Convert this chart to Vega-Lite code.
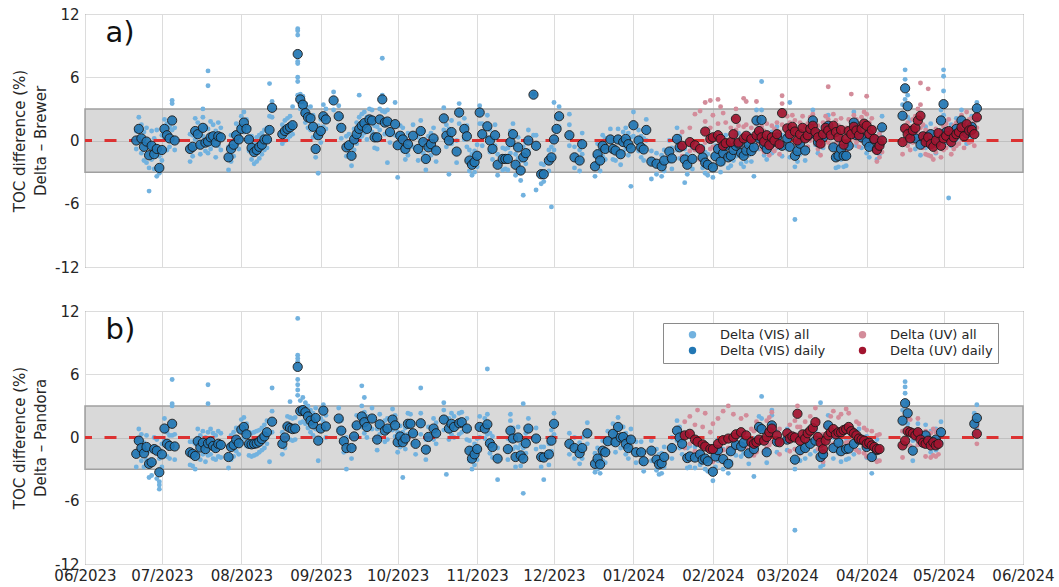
{
"$schema":"https://vega.github.io/schema/vega-lite/v6.json",
"background":"white",
"padding":{"left":12,"top":6,"right":5,"bottom":3},
"spacing":27,
"config":{"font":"DejaVu Sans","view":{"stroke":"#555555","strokeWidth":1},
"axis":{"labelFont":"DejaVu Sans","labelFontSize":15,"labelColor":"#262626","titleFont":"DejaVu Sans","titleFontSize":15,"titleFontWeight":"normal","titleColor":"#262626","gridColor":"#dcdcdc","gridWidth":1,"gridOpacity":1,"domain":false,"ticks":false}},
"resolve":{"scale":{"color":"independent"}},
"datasets":{
"aVd":[{"d":"2023-06-21","v":0.0},{"d":"2023-06-22","v":1.1},{"d":"2023-06-23","v":0.2},{"d":"2023-06-24","v":-0.6},{"d":"2023-06-25","v":-0.1},{"d":"2023-06-26","v":-1.4},{"d":"2023-06-27","v":-0.5},{"d":"2023-06-28","v":-1.3},{"d":"2023-06-29","v":-0.8},{"d":"2023-06-30","v":-2.6},{"d":"2023-07-01","v":-0.9},{"d":"2023-07-02","v":1.1},{"d":"2023-07-03","v":0.5},{"d":"2023-07-04","v":0.2},{"d":"2023-07-05","v":1.9},{"d":"2023-07-06","v":0.0},{"d":"2023-07-12","v":-0.8},{"d":"2023-07-13","v":-0.6},{"d":"2023-07-14","v":0.9},{"d":"2023-07-15","v":0.6},{"d":"2023-07-16","v":-0.4},{"d":"2023-07-17","v":1.2},{"d":"2023-07-18","v":-0.2},{"d":"2023-07-19","v":-0.1},{"d":"2023-07-20","v":0.3},{"d":"2023-07-21","v":0.4},{"d":"2023-07-22","v":-0.2},{"d":"2023-07-23","v":0.4},{"d":"2023-07-24","v":0.3},{"d":"2023-07-27","v":-1.6},{"d":"2023-07-28","v":-0.8},{"d":"2023-07-29","v":-0.4},{"d":"2023-07-30","v":0.5},{"d":"2023-07-31","v":0.1},{"d":"2023-08-01","v":1.1},{"d":"2023-08-02","v":1.7},{"d":"2023-08-03","v":1.1},{"d":"2023-08-04","v":0.1},{"d":"2023-08-05","v":-0.7},{"d":"2023-08-06","v":-1.1},{"d":"2023-08-07","v":-0.9},{"d":"2023-08-08","v":-0.6},{"d":"2023-08-09","v":-0.4},{"d":"2023-08-10","v":0.1},{"d":"2023-08-11","v":0.1},{"d":"2023-08-12","v":1.0},{"d":"2023-08-13","v":3.1},{"d":"2023-08-17","v":0.6},{"d":"2023-08-18","v":0.9},{"d":"2023-08-19","v":1.1},{"d":"2023-08-20","v":1.25},{"d":"2023-08-21","v":1.45},{"d":"2023-08-23","v":8.2},{"d":"2023-08-24","v":3.9},{"d":"2023-08-25","v":3.4},{"d":"2023-08-26","v":2.6},{"d":"2023-08-27","v":2.2},{"d":"2023-08-28","v":2.1},{"d":"2023-08-29","v":1.3},{"d":"2023-08-30","v":-0.8},{"d":"2023-08-31","v":0.5},{"d":"2023-09-01","v":0.9},{"d":"2023-09-02","v":2.3},{"d":"2023-09-03","v":2.0},{"d":"2023-09-06","v":3.8},{"d":"2023-09-08","v":2.3},{"d":"2023-09-09","v":1.2},{"d":"2023-09-11","v":-0.65},{"d":"2023-09-12","v":-0.45},{"d":"2023-09-13","v":-1.45},{"d":"2023-09-14","v":0.1},{"d":"2023-09-15","v":0.6},{"d":"2023-09-16","v":1.1},{"d":"2023-09-17","v":1.4},{"d":"2023-09-18","v":1.65},{"d":"2023-09-19","v":1.1},{"d":"2023-09-20","v":2.0},{"d":"2023-09-21","v":1.9},{"d":"2023-09-22","v":0.3},{"d":"2023-09-23","v":0.3},{"d":"2023-09-24","v":2.0},{"d":"2023-09-25","v":3.9},{"d":"2023-09-26","v":1.7},{"d":"2023-09-27","v":1.8},{"d":"2023-09-28","v":0.8},{"d":"2023-09-30","v":1.55},{"d":"2023-10-01","v":-0.45},{"d":"2023-10-02","v":0.45},{"d":"2023-10-03","v":0.1},{"d":"2023-10-04","v":-0.8},{"d":"2023-10-05","v":-0.35},{"d":"2023-10-07","v":0.45},{"d":"2023-10-09","v":-0.8},{"d":"2023-10-10","v":0.9},{"d":"2023-10-11","v":-0.15},{"d":"2023-10-12","v":-1.75},{"d":"2023-10-13","v":-0.65},{"d":"2023-10-14","v":-0.35},{"d":"2023-10-15","v":0.2},{"d":"2023-10-16","v":-0.95},{"d":"2023-10-19","v":2.1},{"d":"2023-10-20","v":0.45},{"d":"2023-10-21","v":0.0},{"d":"2023-10-22","v":0.8},{"d":"2023-10-24","v":-1.05},{"d":"2023-10-25","v":2.65},{"d":"2023-10-27","v":1.1},{"d":"2023-10-28","v":0.4},{"d":"2023-10-29","v":-1.9},{"d":"2023-10-30","v":-2.3},{"d":"2023-10-31","v":-2.05},{"d":"2023-11-01","v":-1.45},{"d":"2023-11-02","v":2.65},{"d":"2023-11-03","v":0.6},{"d":"2023-11-05","v":1.35},{"d":"2023-11-06","v":0.0},{"d":"2023-11-07","v":-0.8},{"d":"2023-11-08","v":0.5},{"d":"2023-11-09","v":-2.3},{"d":"2023-11-11","v":-1.75},{"d":"2023-11-12","v":-1.75},{"d":"2023-11-13","v":-1.75},{"d":"2023-11-14","v":-0.15},{"d":"2023-11-15","v":0.6},{"d":"2023-11-16","v":-2.3},{"d":"2023-11-17","v":-0.65},{"d":"2023-11-18","v":-2.85},{"d":"2023-11-19","v":-1.6},{"d":"2023-11-20","v":-1.2},{"d":"2023-11-21","v":0.0},{"d":"2023-11-23","v":4.35},{"d":"2023-11-24","v":-0.5},{"d":"2023-11-26","v":-3.2},{"d":"2023-11-27","v":-3.2},{"d":"2023-11-29","v":-1.9},{"d":"2023-11-30","v":-1.6},{"d":"2023-12-01","v":0.1},{"d":"2023-12-02","v":1.1},{"d":"2023-12-03","v":2.3},{"d":"2023-12-07","v":0.5},{"d":"2023-12-09","v":-1.6},{"d":"2023-12-11","v":-1.9},{"d":"2023-12-12","v":-0.35},{"d":"2023-12-17","v":-2.45},{"d":"2023-12-18","v":-1.3},{"d":"2023-12-19","v":-1.9},{"d":"2023-12-20","v":-0.5},{"d":"2023-12-21","v":-0.8},{"d":"2023-12-23","v":0.1},{"d":"2023-12-24","v":-0.8},{"d":"2023-12-25","v":-0.95},{"d":"2023-12-26","v":0.1},{"d":"2023-12-27","v":-1.3},{"d":"2023-12-28","v":-0.15},{"d":"2023-12-29","v":0.15},{"d":"2023-12-30","v":-0.35},{"d":"2023-12-31","v":-0.75},{"d":"2024-01-01","v":1.45},{"d":"2024-01-03","v":0.0},{"d":"2024-01-04","v":-0.65},{"d":"2024-01-05","v":-0.85},{"d":"2024-01-06","v":1.0},{"d":"2024-01-08","v":-2.0},{"d":"2024-01-10","v":-2.2},{"d":"2024-01-12","v":-2.45},{"d":"2024-01-13","v":-1.9},{"d":"2024-01-15","v":-1.05},{"d":"2024-01-16","v":-1.7},{"d":"2024-01-18","v":0.15},{"d":"2024-01-19","v":-0.65},{"d":"2024-01-21","v":-1.8},{"d":"2024-01-22","v":-2.3},{"d":"2024-01-24","v":-1.75},{"d":"2024-01-28","v":-1.6},{"d":"2024-01-29","v":-2.1},{"d":"2024-01-30","v":-2.3},{"d":"2024-02-01","v":-2.55},{"d":"2024-02-02","v":-1.5},{"d":"2024-02-03","v":-0.8},{"d":"2024-02-04","v":-2.0},{"d":"2024-02-05","v":-1.2},{"d":"2024-02-06","v":-0.5},{"d":"2024-02-07","v":-1.6},{"d":"2024-02-08","v":-1.45},{"d":"2024-02-09","v":-0.9},{"d":"2024-02-10","v":-0.5},{"d":"2024-02-11","v":-0.3},{"d":"2024-02-12","v":-1.2},{"d":"2024-02-13","v":-1.45},{"d":"2024-02-14","v":-0.95},{"d":"2024-02-15","v":-0.4},{"d":"2024-02-16","v":-1.0},{"d":"2024-02-17","v":-0.65},{"d":"2024-02-18","v":1.9},{"d":"2024-02-19","v":0.2},{"d":"2024-02-20","v":1.95},{"d":"2024-02-21","v":-0.4},{"d":"2024-02-22","v":-0.8},{"d":"2024-02-24","v":-0.2},{"d":"2024-02-26","v":0.3},{"d":"2024-02-28","v":-0.5},{"d":"2024-03-01","v":0.2},{"d":"2024-03-02","v":-0.6},{"d":"2024-03-04","v":-1.45},{"d":"2024-03-05","v":-1.0},{"d":"2024-03-06","v":-0.3},{"d":"2024-03-08","v":-0.95},{"d":"2024-03-09","v":0.4},{"d":"2024-03-11","v":1.9},{"d":"2024-03-12","v":0.6},{"d":"2024-03-13","v":-0.15},{"d":"2024-03-15","v":0.3},{"d":"2024-03-17","v":1.4},{"d":"2024-03-19","v":-0.65},{"d":"2024-03-20","v":-1.6},{"d":"2024-03-21","v":-1.45},{"d":"2024-03-22","v":-0.8},{"d":"2024-03-23","v":-1.45},{"d":"2024-03-24","v":-1.45},{"d":"2024-03-25","v":-0.5},{"d":"2024-03-27","v":1.7},{"d":"2024-03-28","v":0.5},{"d":"2024-03-30","v":0.3},{"d":"2024-04-01","v":-0.15},{"d":"2024-04-02","v":-0.6},{"d":"2024-04-04","v":0.1},{"d":"2024-04-05","v":-0.8},{"d":"2024-04-06","v":-0.3},{"d":"2024-04-07","v":1.25},{"d":"2024-04-15","v":2.35},{"d":"2024-04-16","v":4.95},{"d":"2024-04-17","v":3.25},{"d":"2024-04-18","v":0.9},{"d":"2024-04-20","v":0.2},{"d":"2024-04-22","v":-0.4},{"d":"2024-04-24","v":0.3},{"d":"2024-04-26","v":0.6},{"d":"2024-04-28","v":-0.2},{"d":"2024-04-30","v":1.9},{"d":"2024-05-01","v":3.45},{"d":"2024-05-02","v":0.8},{"d":"2024-05-04","v":0.5},{"d":"2024-05-06","v":1.1},{"d":"2024-05-08","v":1.9},{"d":"2024-05-10","v":0.7},{"d":"2024-05-12","v":1.3},{"d":"2024-05-14","v":3.05}],
"aVa":[{"d":"2023-06-21","v":0.9},{"d":"2023-06-21","v":-0.8},{"d":"2023-06-22","v":2.2},{"d":"2023-06-22","v":0.3},{"d":"2023-06-23","v":1.5},{"d":"2023-06-23","v":-1.2},{"d":"2023-06-24","v":0.8},{"d":"2023-06-24","v":-1.9},{"d":"2023-06-25","v":1.2},{"d":"2023-06-25","v":-2.1},{"d":"2023-06-26","v":-0.5},{"d":"2023-06-26","v":-4.8},{"d":"2023-06-26","v":-2.6},{"d":"2023-06-27","v":0.9},{"d":"2023-06-27","v":-1.8},{"d":"2023-06-28","v":0.2},{"d":"2023-06-28","v":-2.7},{"d":"2023-06-29","v":1.0},{"d":"2023-06-29","v":-3.4},{"d":"2023-06-30","v":-1.5},{"d":"2023-06-30","v":-3.1},{"d":"2023-07-01","v":0.5},{"d":"2023-07-01","v":-1.9},{"d":"2023-07-02","v":2.0},{"d":"2023-07-02","v":0.1},{"d":"2023-07-03","v":1.6},{"d":"2023-07-03","v":-0.9},{"d":"2023-07-04","v":1.3},{"d":"2023-07-04","v":-0.6},{"d":"2023-07-05","v":3.8},{"d":"2023-07-05","v":3.5},{"d":"2023-07-05","v":1.0},{"d":"2023-07-06","v":1.2},{"d":"2023-07-06","v":-0.9},{"d":"2023-07-12","v":0.6},{"d":"2023-07-12","v":-2.0},{"d":"2023-07-13","v":0.5},{"d":"2023-07-13","v":-1.5},{"d":"2023-07-14","v":2.1},{"d":"2023-07-14","v":0.1},{"d":"2023-07-15","v":1.7},{"d":"2023-07-15","v":-0.6},{"d":"2023-07-16","v":1.0},{"d":"2023-07-16","v":-1.3},{"d":"2023-07-17","v":2.2},{"d":"2023-07-17","v":3.0},{"d":"2023-07-17","v":0.4},{"d":"2023-07-18","v":1.3},{"d":"2023-07-18","v":-1.0},{"d":"2023-07-19","v":6.6},{"d":"2023-07-19","v":5.2},{"d":"2023-07-19","v":1.1},{"d":"2023-07-19","v":-1.2},{"d":"2023-07-20","v":1.8},{"d":"2023-07-20","v":-0.8},{"d":"2023-07-21","v":1.5},{"d":"2023-07-21","v":-0.4},{"d":"2023-07-22","v":0.9},{"d":"2023-07-22","v":-1.6},{"d":"2023-07-23","v":1.7},{"d":"2023-07-23","v":-0.5},{"d":"2023-07-24","v":1.2},{"d":"2023-07-24","v":-0.9},{"d":"2023-07-27","v":-0.6},{"d":"2023-07-27","v":-2.8},{"d":"2023-07-28","v":0.5},{"d":"2023-07-28","v":-2.0},{"d":"2023-07-29","v":0.6},{"d":"2023-07-29","v":-1.5},{"d":"2023-07-30","v":1.6},{"d":"2023-07-30","v":-0.4},{"d":"2023-07-31","v":1.3},{"d":"2023-07-31","v":-0.8},{"d":"2023-08-01","v":2.3},{"d":"2023-08-01","v":0.2},{"d":"2023-08-02","v":2.7},{"d":"2023-08-02","v":0.8},{"d":"2023-08-03","v":2.0},{"d":"2023-08-03","v":0.0},{"d":"2023-08-04","v":1.2},{"d":"2023-08-04","v":-1.0},{"d":"2023-08-05","v":0.4},{"d":"2023-08-05","v":-1.8},{"d":"2023-08-06","v":-0.2},{"d":"2023-08-06","v":-2.2},{"d":"2023-08-07","v":0.3},{"d":"2023-08-07","v":-2.0},{"d":"2023-08-08","v":0.5},{"d":"2023-08-08","v":-1.7},{"d":"2023-08-09","v":0.7},{"d":"2023-08-09","v":-1.3},{"d":"2023-08-10","v":1.0},{"d":"2023-08-10","v":-0.9},{"d":"2023-08-11","v":1.2},{"d":"2023-08-11","v":-0.7},{"d":"2023-08-12","v":5.4},{"d":"2023-08-12","v":2.3},{"d":"2023-08-12","v":0.0},{"d":"2023-08-13","v":3.7},{"d":"2023-08-13","v":2.2},{"d":"2023-08-17","v":1.5},{"d":"2023-08-17","v":-0.3},{"d":"2023-08-18","v":1.9},{"d":"2023-08-18","v":0.0},{"d":"2023-08-19","v":2.1},{"d":"2023-08-19","v":0.1},{"d":"2023-08-20","v":2.3},{"d":"2023-08-20","v":0.4},{"d":"2023-08-21","v":3.2},{"d":"2023-08-21","v":0.6},{"d":"2023-08-23","v":10.6},{"d":"2023-08-23","v":10.4},{"d":"2023-08-23","v":10.0},{"d":"2023-08-23","v":7.5},{"d":"2023-08-23","v":7.3},{"d":"2023-08-23","v":6.0},{"d":"2023-08-23","v":5.6},{"d":"2023-08-23","v":4.3},{"d":"2023-08-24","v":4.4},{"d":"2023-08-24","v":3.0},{"d":"2023-08-25","v":4.2},{"d":"2023-08-25","v":2.6},{"d":"2023-08-26","v":3.5},{"d":"2023-08-26","v":1.7},{"d":"2023-08-27","v":3.1},{"d":"2023-08-27","v":1.2},{"d":"2023-08-28","v":3.2},{"d":"2023-08-28","v":1.0},{"d":"2023-08-29","v":2.4},{"d":"2023-08-29","v":0.3},{"d":"2023-08-30","v":0.3},{"d":"2023-08-30","v":-1.6},{"d":"2023-08-31","v":1.4},{"d":"2023-08-31","v":-3.1},{"d":"2023-09-01","v":2.0},{"d":"2023-09-01","v":-0.2},{"d":"2023-09-02","v":3.4},{"d":"2023-09-02","v":1.3},{"d":"2023-09-03","v":3.0},{"d":"2023-09-03","v":1.1},{"d":"2023-09-06","v":4.6},{"d":"2023-09-06","v":2.9},{"d":"2023-09-08","v":3.3},{"d":"2023-09-08","v":1.4},{"d":"2023-09-09","v":2.2},{"d":"2023-09-09","v":0.2},{"d":"2023-09-11","v":0.4},{"d":"2023-09-11","v":-1.5},{"d":"2023-09-12","v":0.6},{"d":"2023-09-12","v":-1.3},{"d":"2023-09-13","v":-0.4},{"d":"2023-09-13","v":-2.4},{"d":"2023-09-14","v":1.1},{"d":"2023-09-14","v":-0.9},{"d":"2023-09-15","v":1.7},{"d":"2023-09-15","v":-0.3},{"d":"2023-09-16","v":4.3},{"d":"2023-09-16","v":2.2},{"d":"2023-09-16","v":0.1},{"d":"2023-09-17","v":2.5},{"d":"2023-09-17","v":0.4},{"d":"2023-09-18","v":2.7},{"d":"2023-09-18","v":0.7},{"d":"2023-09-19","v":2.2},{"d":"2023-09-19","v":0.1},{"d":"2023-09-20","v":3.0},{"d":"2023-09-20","v":1.0},{"d":"2023-09-21","v":2.9},{"d":"2023-09-21","v":0.8},{"d":"2023-09-22","v":1.4},{"d":"2023-09-22","v":-0.7},{"d":"2023-09-23","v":1.3},{"d":"2023-09-23","v":-0.8},{"d":"2023-09-24","v":3.0},{"d":"2023-09-24","v":1.0},{"d":"2023-09-25","v":7.8},{"d":"2023-09-25","v":4.3},{"d":"2023-09-25","v":2.8},{"d":"2023-09-26","v":2.7},{"d":"2023-09-26","v":0.6},{"d":"2023-09-27","v":2.9},{"d":"2023-09-27","v":-2.1},{"d":"2023-09-28","v":1.8},{"d":"2023-09-28","v":-0.2},{"d":"2023-09-30","v":3.6},{"d":"2023-09-30","v":0.5},{"d":"2023-10-01","v":0.6},{"d":"2023-10-01","v":-3.5},{"d":"2023-10-02","v":1.4},{"d":"2023-10-02","v":-0.6},{"d":"2023-10-03","v":1.2},{"d":"2023-10-03","v":-1.0},{"d":"2023-10-04","v":0.3},{"d":"2023-10-04","v":-1.8},{"d":"2023-10-05","v":0.7},{"d":"2023-10-05","v":-1.4},{"d":"2023-10-07","v":1.5},{"d":"2023-10-07","v":-0.6},{"d":"2023-10-09","v":0.3},{"d":"2023-10-09","v":-1.9},{"d":"2023-10-10","v":1.9},{"d":"2023-10-10","v":-0.1},{"d":"2023-10-11","v":0.9},{"d":"2023-10-11","v":-1.2},{"d":"2023-10-12","v":-0.7},{"d":"2023-10-12","v":-2.8},{"d":"2023-10-13","v":0.4},{"d":"2023-10-13","v":-1.7},{"d":"2023-10-14","v":0.7},{"d":"2023-10-14","v":-1.4},{"d":"2023-10-15","v":1.2},{"d":"2023-10-15","v":-0.8},{"d":"2023-10-16","v":0.1},{"d":"2023-10-16","v":-2.0},{"d":"2023-10-19","v":3.1},{"d":"2023-10-19","v":1.0},{"d":"2023-10-20","v":1.5},{"d":"2023-10-20","v":-0.6},{"d":"2023-10-21","v":1.1},{"d":"2023-10-21","v":-3.2},{"d":"2023-10-22","v":1.9},{"d":"2023-10-22","v":-0.3},{"d":"2023-10-24","v":0.0},{"d":"2023-10-24","v":-2.1},{"d":"2023-10-25","v":3.5},{"d":"2023-10-25","v":1.6},{"d":"2023-10-27","v":2.1},{"d":"2023-10-27","v":0.1},{"d":"2023-10-28","v":1.4},{"d":"2023-10-28","v":-0.6},{"d":"2023-10-29","v":-0.9},{"d":"2023-10-29","v":-2.9},{"d":"2023-10-30","v":-1.3},{"d":"2023-10-30","v":-3.3},{"d":"2023-10-31","v":-1.0},{"d":"2023-10-31","v":-3.0},{"d":"2023-11-01","v":-0.4},{"d":"2023-11-01","v":-2.5},{"d":"2023-11-02","v":3.3},{"d":"2023-11-02","v":1.6},{"d":"2023-11-03","v":1.6},{"d":"2023-11-03","v":-0.5},{"d":"2023-11-05","v":2.4},{"d":"2023-11-05","v":0.3},{"d":"2023-11-06","v":1.0},{"d":"2023-11-06","v":-1.1},{"d":"2023-11-07","v":0.2},{"d":"2023-11-07","v":-1.8},{"d":"2023-11-08","v":1.5},{"d":"2023-11-08","v":-0.5},{"d":"2023-11-09","v":-1.3},{"d":"2023-11-09","v":-3.3},{"d":"2023-11-11","v":-0.7},{"d":"2023-11-11","v":-2.8},{"d":"2023-11-12","v":-0.8},{"d":"2023-11-12","v":-2.7},{"d":"2023-11-13","v":-0.7},{"d":"2023-11-13","v":-2.8},{"d":"2023-11-14","v":0.9},{"d":"2023-11-14","v":-1.2},{"d":"2023-11-15","v":1.6},{"d":"2023-11-15","v":-0.4},{"d":"2023-11-16","v":-1.3},{"d":"2023-11-16","v":-3.3},{"d":"2023-11-17","v":0.3},{"d":"2023-11-17","v":-1.7},{"d":"2023-11-18","v":-1.9},{"d":"2023-11-18","v":-3.8},{"d":"2023-11-19","v":-0.6},{"d":"2023-11-19","v":-5.2},{"d":"2023-11-20","v":-0.2},{"d":"2023-11-20","v":-2.2},{"d":"2023-11-21","v":1.0},{"d":"2023-11-21","v":-1.0},{"d":"2023-11-23","v":4.4},{"d":"2023-11-23","v":0.5},{"d":"2023-11-24","v":0.5},{"d":"2023-11-24","v":-4.7},{"d":"2023-11-26","v":-2.2},{"d":"2023-11-26","v":-4.1},{"d":"2023-11-27","v":-2.3},{"d":"2023-11-27","v":-3.9},{"d":"2023-11-29","v":-0.9},{"d":"2023-11-29","v":-2.9},{"d":"2023-11-30","v":-0.6},{"d":"2023-11-30","v":-6.3},{"d":"2023-12-01","v":3.6},{"d":"2023-12-01","v":1.1},{"d":"2023-12-01","v":-0.9},{"d":"2023-12-02","v":2.1},{"d":"2023-12-02","v":0.1},{"d":"2023-12-03","v":3.2},{"d":"2023-12-03","v":1.3},{"d":"2023-12-07","v":2.5},{"d":"2023-12-07","v":1.5},{"d":"2023-12-07","v":-0.5},{"d":"2023-12-09","v":-0.6},{"d":"2023-12-09","v":-2.6},{"d":"2023-12-11","v":-0.9},{"d":"2023-12-11","v":-2.9},{"d":"2023-12-12","v":0.7},{"d":"2023-12-12","v":-1.3},{"d":"2023-12-17","v":-1.5},{"d":"2023-12-17","v":-3.4},{"d":"2023-12-18","v":-0.3},{"d":"2023-12-18","v":-2.3},{"d":"2023-12-19","v":-0.9},{"d":"2023-12-19","v":-2.9},{"d":"2023-12-20","v":0.5},{"d":"2023-12-20","v":-1.5},{"d":"2023-12-21","v":0.2},{"d":"2023-12-21","v":-1.8},{"d":"2023-12-23","v":1.1},{"d":"2023-12-23","v":-0.9},{"d":"2023-12-24","v":0.2},{"d":"2023-12-24","v":-1.8},{"d":"2023-12-25","v":0.0},{"d":"2023-12-25","v":-1.9},{"d":"2023-12-26","v":1.1},{"d":"2023-12-26","v":-0.9},{"d":"2023-12-27","v":-0.3},{"d":"2023-12-27","v":-2.3},{"d":"2023-12-28","v":0.8},{"d":"2023-12-28","v":-1.1},{"d":"2023-12-29","v":1.2},{"d":"2023-12-29","v":-0.8},{"d":"2023-12-30","v":0.7},{"d":"2023-12-30","v":-1.4},{"d":"2023-12-31","v":0.3},{"d":"2023-12-31","v":-4.35},{"d":"2024-01-01","v":2.7},{"d":"2024-01-01","v":0.4},{"d":"2024-01-03","v":1.0},{"d":"2024-01-03","v":-1.0},{"d":"2024-01-04","v":0.4},{"d":"2024-01-04","v":-1.6},{"d":"2024-01-05","v":0.2},{"d":"2024-01-05","v":-1.9},{"d":"2024-01-06","v":2.0},{"d":"2024-01-06","v":0.0},{"d":"2024-01-08","v":-1.0},{"d":"2024-01-08","v":-3.65},{"d":"2024-01-10","v":-1.2},{"d":"2024-01-10","v":-3.2},{"d":"2024-01-12","v":-1.4},{"d":"2024-01-12","v":-3.4},{"d":"2024-01-13","v":-0.9},{"d":"2024-01-13","v":-2.9},{"d":"2024-01-15","v":0.0},{"d":"2024-01-15","v":-2.0},{"d":"2024-01-16","v":-0.7},{"d":"2024-01-16","v":-2.7},{"d":"2024-01-18","v":1.2},{"d":"2024-01-18","v":-0.9},{"d":"2024-01-19","v":0.4},{"d":"2024-01-19","v":-1.7},{"d":"2024-01-21","v":-0.8},{"d":"2024-01-21","v":-4.0},{"d":"2024-01-22","v":-1.3},{"d":"2024-01-22","v":-3.2},{"d":"2024-01-24","v":-0.7},{"d":"2024-01-24","v":-2.7},{"d":"2024-01-28","v":-0.6},{"d":"2024-01-28","v":-2.6},{"d":"2024-01-29","v":-1.1},{"d":"2024-01-29","v":-3.1},{"d":"2024-01-30","v":-1.3},{"d":"2024-01-30","v":-3.3},{"d":"2024-02-01","v":-1.5},{"d":"2024-02-01","v":-3.5},{"d":"2024-02-02","v":-0.5},{"d":"2024-02-02","v":-2.5},{"d":"2024-02-03","v":0.2},{"d":"2024-02-03","v":-1.8},{"d":"2024-02-04","v":-1.0},{"d":"2024-02-04","v":-3.0},{"d":"2024-02-05","v":-0.2},{"d":"2024-02-05","v":-2.2},{"d":"2024-02-06","v":0.5},{"d":"2024-02-06","v":-1.5},{"d":"2024-02-07","v":-0.6},{"d":"2024-02-07","v":-2.6},{"d":"2024-02-08","v":-0.5},{"d":"2024-02-08","v":-2.4},{"d":"2024-02-09","v":0.1},{"d":"2024-02-09","v":-1.9},{"d":"2024-02-10","v":0.5},{"d":"2024-02-10","v":-1.5},{"d":"2024-02-11","v":0.7},{"d":"2024-02-11","v":-1.3},{"d":"2024-02-12","v":-0.2},{"d":"2024-02-12","v":-2.2},{"d":"2024-02-13","v":-0.5},{"d":"2024-02-13","v":-2.5},{"d":"2024-02-14","v":0.0},{"d":"2024-02-14","v":-2.0},{"d":"2024-02-15","v":0.6},{"d":"2024-02-15","v":-1.4},{"d":"2024-02-16","v":0.0},{"d":"2024-02-16","v":-2.0},{"d":"2024-02-17","v":0.4},{"d":"2024-02-17","v":-3.4},{"d":"2024-02-18","v":2.9},{"d":"2024-02-18","v":0.9},{"d":"2024-02-19","v":1.2},{"d":"2024-02-19","v":-0.8},{"d":"2024-02-20","v":5.6},{"d":"2024-02-20","v":2.9},{"d":"2024-02-20","v":0.9},{"d":"2024-02-21","v":0.6},{"d":"2024-02-21","v":-1.4},{"d":"2024-02-22","v":0.2},{"d":"2024-02-22","v":-1.8},{"d":"2024-02-24","v":0.8},{"d":"2024-02-24","v":-1.2},{"d":"2024-02-26","v":1.3},{"d":"2024-02-26","v":-0.7},{"d":"2024-02-28","v":0.5},{"d":"2024-02-28","v":-1.5},{"d":"2024-03-01","v":1.2},{"d":"2024-03-01","v":-0.8},{"d":"2024-03-02","v":3.6},{"d":"2024-03-02","v":0.4},{"d":"2024-03-02","v":-1.6},{"d":"2024-03-04","v":-0.4},{"d":"2024-03-04","v":-7.5},{"d":"2024-03-04","v":-2.5},{"d":"2024-03-05","v":0.0},{"d":"2024-03-05","v":-2.0},{"d":"2024-03-06","v":0.7},{"d":"2024-03-06","v":-1.3},{"d":"2024-03-08","v":0.1},{"d":"2024-03-08","v":-1.9},{"d":"2024-03-09","v":1.4},{"d":"2024-03-09","v":-0.6},{"d":"2024-03-11","v":2.9},{"d":"2024-03-11","v":0.9},{"d":"2024-03-12","v":1.6},{"d":"2024-03-12","v":-0.4},{"d":"2024-03-13","v":0.9},{"d":"2024-03-13","v":-1.2},{"d":"2024-03-15","v":1.3},{"d":"2024-03-15","v":-0.7},{"d":"2024-03-17","v":2.4},{"d":"2024-03-17","v":0.4},{"d":"2024-03-19","v":0.4},{"d":"2024-03-19","v":-1.7},{"d":"2024-03-20","v":-0.6},{"d":"2024-03-20","v":-2.6},{"d":"2024-03-21","v":-0.4},{"d":"2024-03-21","v":-2.5},{"d":"2024-03-22","v":0.2},{"d":"2024-03-22","v":-1.8},{"d":"2024-03-23","v":-0.4},{"d":"2024-03-23","v":-2.5},{"d":"2024-03-24","v":-0.5},{"d":"2024-03-24","v":-2.4},{"d":"2024-03-25","v":0.5},{"d":"2024-03-25","v":-1.5},{"d":"2024-03-27","v":2.7},{"d":"2024-03-27","v":0.7},{"d":"2024-03-28","v":1.5},{"d":"2024-03-28","v":-0.5},{"d":"2024-03-30","v":1.3},{"d":"2024-03-30","v":-0.7},{"d":"2024-04-01","v":0.9},{"d":"2024-04-01","v":-1.2},{"d":"2024-04-02","v":0.4},{"d":"2024-04-02","v":-1.6},{"d":"2024-04-04","v":1.1},{"d":"2024-04-04","v":-0.9},{"d":"2024-04-05","v":0.2},{"d":"2024-04-05","v":-1.8},{"d":"2024-04-06","v":0.7},{"d":"2024-04-06","v":-1.3},{"d":"2024-04-07","v":2.3},{"d":"2024-04-07","v":0.3},{"d":"2024-04-15","v":3.4},{"d":"2024-04-15","v":1.3},{"d":"2024-04-16","v":6.7},{"d":"2024-04-16","v":5.8},{"d":"2024-04-16","v":3.9},{"d":"2024-04-17","v":4.3},{"d":"2024-04-17","v":2.2},{"d":"2024-04-18","v":1.9},{"d":"2024-04-18","v":-0.1},{"d":"2024-04-20","v":1.2},{"d":"2024-04-20","v":-0.8},{"d":"2024-04-22","v":0.6},{"d":"2024-04-22","v":-1.4},{"d":"2024-04-24","v":1.3},{"d":"2024-04-24","v":-0.7},{"d":"2024-04-26","v":1.6},{"d":"2024-04-26","v":-0.4},{"d":"2024-04-28","v":0.8},{"d":"2024-04-28","v":-1.2},{"d":"2024-04-30","v":2.9},{"d":"2024-04-30","v":0.9},{"d":"2024-05-01","v":6.7},{"d":"2024-05-01","v":6.1},{"d":"2024-05-01","v":4.7},{"d":"2024-05-01","v":2.4},{"d":"2024-05-02","v":1.8},{"d":"2024-05-02","v":-0.2},{"d":"2024-05-03","v":-5.45},{"d":"2024-05-04","v":1.5},{"d":"2024-05-04","v":-0.5},{"d":"2024-05-06","v":2.1},{"d":"2024-05-06","v":0.1},{"d":"2024-05-08","v":2.9},{"d":"2024-05-08","v":0.9},{"d":"2024-05-10","v":1.7},{"d":"2024-05-10","v":-0.3},{"d":"2024-05-12","v":2.3},{"d":"2024-05-12","v":0.3},{"d":"2024-05-14","v":3.6},{"d":"2024-05-14","v":2.0}],
"aUd":[{"d":"2024-01-20","v":-0.5},{"d":"2024-01-23","v":-0.15},{"d":"2024-01-25","v":-0.45},{"d":"2024-01-27","v":-0.8},{"d":"2024-01-29","v":0.85},{"d":"2024-01-31","v":0.15},{"d":"2024-02-01","v":0.3},{"d":"2024-02-03","v":0.5},{"d":"2024-02-04","v":0.15},{"d":"2024-02-05","v":-0.5},{"d":"2024-02-06","v":-0.25},{"d":"2024-02-08","v":-0.15},{"d":"2024-02-09","v":0.6},{"d":"2024-02-10","v":2.05},{"d":"2024-02-11","v":-0.2},{"d":"2024-02-13","v":0.2},{"d":"2024-02-14","v":0.45},{"d":"2024-02-16","v":0.15},{"d":"2024-02-18","v":0.5},{"d":"2024-02-19","v":0.9},{"d":"2024-02-20","v":0.3},{"d":"2024-02-21","v":-0.1},{"d":"2024-02-22","v":0.5},{"d":"2024-02-23","v":-0.45},{"d":"2024-02-24","v":0.3},{"d":"2024-02-25","v":0.0},{"d":"2024-02-26","v":0.6},{"d":"2024-02-27","v":-0.35},{"d":"2024-02-28","v":2.6},{"d":"2024-03-01","v":1.15},{"d":"2024-03-02","v":0.6},{"d":"2024-03-03","v":1.3},{"d":"2024-03-04","v":0.85},{"d":"2024-03-05","v":0.0},{"d":"2024-03-06","v":0.6},{"d":"2024-03-07","v":1.2},{"d":"2024-03-08","v":0.2},{"d":"2024-03-09","v":0.5},{"d":"2024-03-10","v":1.1},{"d":"2024-03-11","v":1.4},{"d":"2024-03-12","v":0.8},{"d":"2024-03-13","v":0.3},{"d":"2024-03-14","v":-0.3},{"d":"2024-03-15","v":0.6},{"d":"2024-03-16","v":1.2},{"d":"2024-03-17","v":0.95},{"d":"2024-03-18","v":0.5},{"d":"2024-03-19","v":1.4},{"d":"2024-03-20","v":0.8},{"d":"2024-03-21","v":0.3},{"d":"2024-03-22","v":1.0},{"d":"2024-03-23","v":-0.4},{"d":"2024-03-24","v":0.15},{"d":"2024-03-25","v":0.9},{"d":"2024-03-26","v":0.6},{"d":"2024-03-27","v":1.3},{"d":"2024-03-28","v":0.95},{"d":"2024-03-29","v":0.5},{"d":"2024-03-30","v":1.1},{"d":"2024-03-31","v":1.6},{"d":"2024-04-01","v":1.4},{"d":"2024-04-02","v":0.6},{"d":"2024-04-03","v":1.0},{"d":"2024-04-04","v":0.15},{"d":"2024-04-05","v":-0.9},{"d":"2024-04-06","v":-0.5},{"d":"2024-04-07","v":0.0},{"d":"2024-04-15","v":-0.15},{"d":"2024-04-16","v":1.15},{"d":"2024-04-17","v":0.6},{"d":"2024-04-18","v":0.2},{"d":"2024-04-19","v":0.95},{"d":"2024-04-20","v":1.2},{"d":"2024-04-21","v":1.9},{"d":"2024-04-22","v":2.35},{"d":"2024-04-23","v":0.4},{"d":"2024-04-24","v":-0.15},{"d":"2024-04-25","v":0.3},{"d":"2024-04-26","v":-0.35},{"d":"2024-04-27","v":-0.6},{"d":"2024-04-28","v":0.0},{"d":"2024-04-29","v":0.7},{"d":"2024-04-30","v":-0.5},{"d":"2024-05-01","v":0.2},{"d":"2024-05-02","v":0.45},{"d":"2024-05-03","v":0.9},{"d":"2024-05-04","v":-0.15},{"d":"2024-05-05","v":0.3},{"d":"2024-05-06","v":0.6},{"d":"2024-05-07","v":0.8},{"d":"2024-05-08","v":1.25},{"d":"2024-05-09","v":0.4},{"d":"2024-05-10","v":1.55},{"d":"2024-05-11","v":0.95},{"d":"2024-05-12","v":1.0},{"d":"2024-05-13","v":0.6},{"d":"2024-05-14","v":2.2}],
"aUa":[{"d":"2024-01-20","v":0.8},{"d":"2024-01-20","v":-1.5},{"d":"2024-01-23","v":1.2},{"d":"2024-01-23","v":-1.0},{"d":"2024-01-25","v":2.5},{"d":"2024-01-25","v":-0.9},{"d":"2024-01-27","v":2.8},{"d":"2024-01-27","v":-1.8},{"d":"2024-01-29","v":3.6},{"d":"2024-01-29","v":1.8},{"d":"2024-01-29","v":-0.2},{"d":"2024-01-31","v":3.8},{"d":"2024-01-31","v":1.2},{"d":"2024-01-31","v":-0.8},{"d":"2024-02-01","v":2.4},{"d":"2024-02-01","v":-0.6},{"d":"2024-02-03","v":3.9},{"d":"2024-02-03","v":1.6},{"d":"2024-02-03","v":-0.5},{"d":"2024-02-04","v":3.2},{"d":"2024-02-04","v":-0.9},{"d":"2024-02-05","v":2.6},{"d":"2024-02-05","v":-1.4},{"d":"2024-02-06","v":1.7},{"d":"2024-02-06","v":-1.2},{"d":"2024-02-08","v":1.2},{"d":"2024-02-08","v":-1.1},{"d":"2024-02-09","v":2.1},{"d":"2024-02-09","v":-0.4},{"d":"2024-02-10","v":3.0},{"d":"2024-02-10","v":1.0},{"d":"2024-02-11","v":1.4},{"d":"2024-02-11","v":-1.1},{"d":"2024-02-13","v":4.0},{"d":"2024-02-13","v":1.3},{"d":"2024-02-13","v":-0.8},{"d":"2024-02-14","v":3.7},{"d":"2024-02-14","v":1.5},{"d":"2024-02-14","v":-0.6},{"d":"2024-02-16","v":1.2},{"d":"2024-02-16","v":-0.9},{"d":"2024-02-18","v":3.7},{"d":"2024-02-18","v":1.6},{"d":"2024-02-18","v":-0.5},{"d":"2024-02-19","v":2.0},{"d":"2024-02-19","v":-0.2},{"d":"2024-02-20","v":1.3},{"d":"2024-02-20","v":-0.8},{"d":"2024-02-21","v":0.9},{"d":"2024-02-21","v":-1.1},{"d":"2024-02-22","v":1.6},{"d":"2024-02-22","v":-0.6},{"d":"2024-02-23","v":0.6},{"d":"2024-02-23","v":-1.4},{"d":"2024-02-24","v":1.4},{"d":"2024-02-24","v":-0.8},{"d":"2024-02-25","v":1.1},{"d":"2024-02-25","v":-1.0},{"d":"2024-02-26","v":1.7},{"d":"2024-02-26","v":-0.6},{"d":"2024-02-27","v":0.8},{"d":"2024-02-27","v":-1.3},{"d":"2024-02-28","v":4.25},{"d":"2024-02-28","v":3.5},{"d":"2024-02-28","v":1.5},{"d":"2024-03-01","v":2.3},{"d":"2024-03-01","v":0.1},{"d":"2024-03-02","v":1.7},{"d":"2024-03-02","v":-0.5},{"d":"2024-03-03","v":2.4},{"d":"2024-03-03","v":0.2},{"d":"2024-03-04","v":1.9},{"d":"2024-03-04","v":-0.3},{"d":"2024-03-05","v":1.0},{"d":"2024-03-05","v":-1.1},{"d":"2024-03-06","v":1.7},{"d":"2024-03-06","v":-0.5},{"d":"2024-03-07","v":2.3},{"d":"2024-03-07","v":0.0},{"d":"2024-03-08","v":1.3},{"d":"2024-03-08","v":-0.9},{"d":"2024-03-09","v":1.6},{"d":"2024-03-09","v":-0.6},{"d":"2024-03-10","v":2.2},{"d":"2024-03-10","v":0.0},{"d":"2024-03-11","v":2.5},{"d":"2024-03-11","v":0.3},{"d":"2024-03-12","v":1.9},{"d":"2024-03-12","v":-0.3},{"d":"2024-03-13","v":1.4},{"d":"2024-03-13","v":-0.8},{"d":"2024-03-14","v":0.8},{"d":"2024-03-14","v":-1.4},{"d":"2024-03-15","v":1.7},{"d":"2024-03-15","v":-0.5},{"d":"2024-03-16","v":2.3},{"d":"2024-03-16","v":0.1},{"d":"2024-03-17","v":5.1},{"d":"2024-03-17","v":2.0},{"d":"2024-03-17","v":-0.2},{"d":"2024-03-18","v":1.6},{"d":"2024-03-18","v":-0.6},{"d":"2024-03-19","v":2.5},{"d":"2024-03-19","v":0.3},{"d":"2024-03-20","v":1.9},{"d":"2024-03-20","v":-0.3},{"d":"2024-03-21","v":1.4},{"d":"2024-03-21","v":-0.8},{"d":"2024-03-22","v":2.1},{"d":"2024-03-22","v":-0.1},{"d":"2024-03-23","v":0.7},{"d":"2024-03-23","v":-1.5},{"d":"2024-03-24","v":1.2},{"d":"2024-03-24","v":-1.0},{"d":"2024-03-25","v":2.0},{"d":"2024-03-25","v":-0.2},{"d":"2024-03-26","v":4.4},{"d":"2024-03-26","v":1.7},{"d":"2024-03-26","v":-0.5},{"d":"2024-03-27","v":2.4},{"d":"2024-03-27","v":0.2},{"d":"2024-03-28","v":2.0},{"d":"2024-03-28","v":-0.2},{"d":"2024-03-29","v":1.6},{"d":"2024-03-29","v":-0.6},{"d":"2024-03-30","v":2.2},{"d":"2024-03-30","v":0.0},{"d":"2024-03-31","v":2.7},{"d":"2024-03-31","v":0.5},{"d":"2024-04-01","v":4.2},{"d":"2024-04-01","v":2.5},{"d":"2024-04-01","v":0.3},{"d":"2024-04-02","v":1.7},{"d":"2024-04-02","v":-0.5},{"d":"2024-04-03","v":2.1},{"d":"2024-04-03","v":-0.1},{"d":"2024-04-04","v":1.2},{"d":"2024-04-04","v":-1.0},{"d":"2024-04-05","v":0.2},{"d":"2024-04-05","v":-2.0},{"d":"2024-04-06","v":0.6},{"d":"2024-04-06","v":-1.6},{"d":"2024-04-07","v":1.1},{"d":"2024-04-07","v":-1.1},{"d":"2024-04-15","v":1.0},{"d":"2024-04-15","v":-1.3},{"d":"2024-04-16","v":2.3},{"d":"2024-04-16","v":0.0},{"d":"2024-04-17","v":1.7},{"d":"2024-04-17","v":-0.5},{"d":"2024-04-18","v":1.3},{"d":"2024-04-18","v":-0.9},{"d":"2024-04-19","v":2.0},{"d":"2024-04-19","v":-0.2},{"d":"2024-04-20","v":2.3},{"d":"2024-04-20","v":0.1},{"d":"2024-04-21","v":3.0},{"d":"2024-04-21","v":0.8},{"d":"2024-04-22","v":5.45},{"d":"2024-04-22","v":3.4},{"d":"2024-04-22","v":1.2},{"d":"2024-04-23","v":1.5},{"d":"2024-04-23","v":-0.7},{"d":"2024-04-24","v":1.0},{"d":"2024-04-24","v":-1.3},{"d":"2024-04-25","v":4.9},{"d":"2024-04-25","v":0.8},{"d":"2024-04-25","v":-1.4},{"d":"2024-04-26","v":0.8},{"d":"2024-04-26","v":-1.5},{"d":"2024-04-27","v":0.5},{"d":"2024-04-27","v":-1.8},{"d":"2024-04-28","v":1.1},{"d":"2024-04-28","v":-1.1},{"d":"2024-04-29","v":1.8},{"d":"2024-04-29","v":-0.4},{"d":"2024-04-30","v":0.6},{"d":"2024-04-30","v":-1.6},{"d":"2024-05-01","v":1.3},{"d":"2024-05-01","v":-0.9},{"d":"2024-05-02","v":1.6},{"d":"2024-05-02","v":-0.7},{"d":"2024-05-03","v":2.0},{"d":"2024-05-03","v":-0.2},{"d":"2024-05-04","v":1.0},{"d":"2024-05-04","v":-1.3},{"d":"2024-05-05","v":1.4},{"d":"2024-05-05","v":-0.8},{"d":"2024-05-06","v":1.7},{"d":"2024-05-06","v":-0.5},{"d":"2024-05-07","v":1.9},{"d":"2024-05-07","v":-0.3},{"d":"2024-05-08","v":2.4},{"d":"2024-05-08","v":0.1},{"d":"2024-05-09","v":1.5},{"d":"2024-05-09","v":-0.7},{"d":"2024-05-10","v":2.7},{"d":"2024-05-10","v":0.4},{"d":"2024-05-11","v":2.0},{"d":"2024-05-11","v":-0.2},{"d":"2024-05-12","v":2.1},{"d":"2024-05-12","v":-0.1},{"d":"2024-05-13","v":1.7},{"d":"2024-05-13","v":-0.5},{"d":"2024-05-14","v":3.0},{"d":"2024-05-14","v":1.2}],
"bVd":[{"d":"2023-06-21","v":-1.55},{"d":"2023-06-22","v":-0.3},{"d":"2023-06-23","v":-1.0},{"d":"2023-06-24","v":-1.5},{"d":"2023-06-25","v":-0.9},{"d":"2023-06-26","v":-2.5},{"d":"2023-06-27","v":-2.35},{"d":"2023-06-28","v":-1.1},{"d":"2023-06-29","v":-1.25},{"d":"2023-06-30","v":-3.3},{"d":"2023-07-01","v":-1.6},{"d":"2023-07-02","v":0.85},{"d":"2023-07-03","v":-0.6},{"d":"2023-07-04","v":-0.8},{"d":"2023-07-05","v":1.3},{"d":"2023-07-06","v":-0.85},{"d":"2023-07-12","v":-1.4},{"d":"2023-07-13","v":-1.55},{"d":"2023-07-14","v":-1.75},{"d":"2023-07-15","v":-0.35},{"d":"2023-07-16","v":-0.95},{"d":"2023-07-17","v":-0.5},{"d":"2023-07-18","v":-1.1},{"d":"2023-07-19","v":-0.55},{"d":"2023-07-20","v":-0.4},{"d":"2023-07-21","v":-0.8},{"d":"2023-07-22","v":-1.0},{"d":"2023-07-23","v":-0.6},{"d":"2023-07-24","v":-0.7},{"d":"2023-07-27","v":-1.85},{"d":"2023-07-28","v":-0.9},{"d":"2023-07-29","v":-0.7},{"d":"2023-07-30","v":-0.2},{"d":"2023-07-31","v":-0.55},{"d":"2023-08-01","v":0.75},{"d":"2023-08-02","v":1.0},{"d":"2023-08-03","v":0.3},{"d":"2023-08-04","v":-0.6},{"d":"2023-08-05","v":-0.65},{"d":"2023-08-06","v":-0.6},{"d":"2023-08-07","v":-0.55},{"d":"2023-08-08","v":-0.4},{"d":"2023-08-09","v":-0.15},{"d":"2023-08-10","v":0.1},{"d":"2023-08-11","v":0.5},{"d":"2023-08-13","v":1.5},{"d":"2023-08-17","v":-0.6},{"d":"2023-08-18","v":0.0},{"d":"2023-08-19","v":1.05},{"d":"2023-08-20","v":0.9},{"d":"2023-08-21","v":0.8},{"d":"2023-08-22","v":0.85},{"d":"2023-08-23","v":6.7},{"d":"2023-08-24","v":2.5},{"d":"2023-08-25","v":2.6},{"d":"2023-08-26","v":2.4},{"d":"2023-08-27","v":2.0},{"d":"2023-08-28","v":1.6},{"d":"2023-08-29","v":1.25},{"d":"2023-08-30","v":1.85},{"d":"2023-08-31","v":-0.3},{"d":"2023-09-01","v":0.85},{"d":"2023-09-02","v":2.55},{"d":"2023-09-03","v":1.05},{"d":"2023-09-08","v":1.8},{"d":"2023-09-09","v":0.65},{"d":"2023-09-10","v":-0.35},{"d":"2023-09-11","v":-1.0},{"d":"2023-09-13","v":-1.0},{"d":"2023-09-14","v":0.1},{"d":"2023-09-15","v":1.15},{"d":"2023-09-17","v":2.0},{"d":"2023-09-18","v":1.45},{"d":"2023-09-19","v":1.0},{"d":"2023-09-21","v":1.8},{"d":"2023-09-23","v":-0.2},{"d":"2023-09-24","v":1.25},{"d":"2023-09-26","v":0.65},{"d":"2023-09-27","v":0.85},{"d":"2023-09-29","v":1.7},{"d":"2023-09-30","v":1.15},{"d":"2023-10-01","v":-0.45},{"d":"2023-10-02","v":0.1},{"d":"2023-10-03","v":-0.45},{"d":"2023-10-04","v":-0.1},{"d":"2023-10-05","v":1.3},{"d":"2023-10-06","v":1.3},{"d":"2023-10-07","v":0.4},{"d":"2023-10-08","v":-0.6},{"d":"2023-10-10","v":1.35},{"d":"2023-10-12","v":-1.15},{"d":"2023-10-13","v":0.05},{"d":"2023-10-15","v":0.85},{"d":"2023-10-16","v":0.4},{"d":"2023-10-19","v":1.7},{"d":"2023-10-21","v":0.85},{"d":"2023-10-22","v":1.3},{"d":"2023-10-23","v":1.0},{"d":"2023-10-25","v":1.35},{"d":"2023-10-26","v":1.45},{"d":"2023-10-28","v":0.85},{"d":"2023-10-29","v":-1.25},{"d":"2023-10-30","v":-2.0},{"d":"2023-10-31","v":-1.6},{"d":"2023-11-01","v":-1.1},{"d":"2023-11-02","v":1.0},{"d":"2023-11-04","v":0.85},{"d":"2023-11-05","v":1.25},{"d":"2023-11-06","v":-0.55},{"d":"2023-11-07","v":-0.9},{"d":"2023-11-09","v":-2.0},{"d":"2023-11-13","v":-1.1},{"d":"2023-11-14","v":0.65},{"d":"2023-11-15","v":-0.1},{"d":"2023-11-16","v":-1.85},{"d":"2023-11-17","v":0.0},{"d":"2023-11-18","v":-1.7},{"d":"2023-11-19","v":-2.0},{"d":"2023-11-20","v":-0.55},{"d":"2023-11-21","v":0.85},{"d":"2023-11-24","v":-0.1},{"d":"2023-11-26","v":-1.85},{"d":"2023-11-27","v":-1.9},{"d":"2023-11-29","v":-1.6},{"d":"2023-11-30","v":-0.3},{"d":"2023-12-01","v":1.3},{"d":"2023-12-07","v":-0.6},{"d":"2023-12-09","v":-1.0},{"d":"2023-12-11","v":-1.5},{"d":"2023-12-12","v":-1.0},{"d":"2023-12-14","v":0.4},{"d":"2023-12-17","v":-2.5},{"d":"2023-12-18","v":-2.0},{"d":"2023-12-19","v":-2.55},{"d":"2023-12-20","v":-1.25},{"d":"2023-12-21","v":-1.4},{"d":"2023-12-22","v":-0.35},{"d":"2023-12-24","v":0.35},{"d":"2023-12-25","v":-0.45},{"d":"2023-12-26","v":1.0},{"d":"2023-12-27","v":0.0},{"d":"2023-12-28","v":0.05},{"d":"2023-12-29","v":-0.6},{"d":"2023-12-30","v":-1.0},{"d":"2023-12-31","v":-0.2},{"d":"2024-01-02","v":-1.4},{"d":"2024-01-04","v":-1.4},{"d":"2024-01-05","v":-2.25},{"d":"2024-01-08","v":-1.25},{"d":"2024-01-10","v":-2.1},{"d":"2024-01-11","v":-2.55},{"d":"2024-01-12","v":-2.45},{"d":"2024-01-13","v":-1.85},{"d":"2024-01-16","v":-1.0},{"d":"2024-01-18","v":0.65},{"d":"2024-01-19","v":0.0},{"d":"2024-01-20","v":-0.6},{"d":"2024-01-22","v":-1.95},{"d":"2024-01-23","v":-1.8},{"d":"2024-01-25","v":-1.9},{"d":"2024-01-27","v":-1.6},{"d":"2024-01-28","v":-2.1},{"d":"2024-01-29","v":-2.0},{"d":"2024-01-30","v":-2.25},{"d":"2024-02-01","v":-3.25},{"d":"2024-02-02","v":-1.8},{"d":"2024-02-03","v":-1.2},{"d":"2024-02-05","v":-2.05},{"d":"2024-02-07","v":-2.5},{"d":"2024-02-08","v":-1.3},{"d":"2024-02-10","v":-0.7},{"d":"2024-02-12","v":-0.85},{"d":"2024-02-13","v":-0.5},{"d":"2024-02-15","v":-1.5},{"d":"2024-02-17","v":-1.1},{"d":"2024-02-19","v":1.0},{"d":"2024-02-20","v":0.8},{"d":"2024-02-22","v":-1.4},{"d":"2024-02-24","v":1.15},{"d":"2024-02-26","v":-0.4},{"d":"2024-03-01","v":-0.2},{"d":"2024-03-04","v":-2.1},{"d":"2024-03-06","v":-1.2},{"d":"2024-03-08","v":-1.0},{"d":"2024-03-10","v":-0.6},{"d":"2024-03-12","v":-0.3},{"d":"2024-03-14","v":-1.85},{"d":"2024-03-15","v":-1.6},{"d":"2024-03-17","v":1.15},{"d":"2024-03-19","v":-1.0},{"d":"2024-03-21","v":-0.5},{"d":"2024-03-22","v":-1.3},{"d":"2024-03-24","v":-1.1},{"d":"2024-03-25","v":-1.05},{"d":"2024-03-27","v":-0.6},{"d":"2024-03-29","v":-0.2},{"d":"2024-04-01","v":-0.9},{"d":"2024-04-03","v":-1.85},{"d":"2024-04-05","v":-1.2},{"d":"2024-04-15","v":1.6},{"d":"2024-04-16","v":3.25},{"d":"2024-04-17","v":2.3},{"d":"2024-04-19","v":-1.25},{"d":"2024-04-21","v":0.3},{"d":"2024-04-24","v":0.2},{"d":"2024-04-26","v":-0.4},{"d":"2024-04-28","v":-0.2},{"d":"2024-04-30","v":0.5},{"d":"2024-05-13","v":1.3},{"d":"2024-05-14","v":1.85}],
"bVa":[{"d":"2023-06-21","v":-0.3},{"d":"2023-06-21","v":-2.8},{"d":"2023-06-22","v":0.8},{"d":"2023-06-22","v":-1.5},{"d":"2023-06-23","v":0.3},{"d":"2023-06-23","v":-2.2},{"d":"2023-06-24","v":-0.5},{"d":"2023-06-24","v":-2.8},{"d":"2023-06-25","v":0.2},{"d":"2023-06-25","v":-2.1},{"d":"2023-06-26","v":-1.3},{"d":"2023-06-26","v":-3.8},{"d":"2023-06-27","v":-1.2},{"d":"2023-06-27","v":-3.6},{"d":"2023-06-28","v":0.0},{"d":"2023-06-28","v":-2.4},{"d":"2023-06-29","v":-0.2},{"d":"2023-06-29","v":-3.9},{"d":"2023-06-30","v":-4.9},{"d":"2023-06-30","v":-4.5},{"d":"2023-06-30","v":-4.2},{"d":"2023-06-30","v":-2.0},{"d":"2023-07-01","v":-0.6},{"d":"2023-07-01","v":-2.8},{"d":"2023-07-02","v":1.8},{"d":"2023-07-02","v":-0.3},{"d":"2023-07-03","v":0.5},{"d":"2023-07-03","v":-1.8},{"d":"2023-07-04","v":0.2},{"d":"2023-07-04","v":-2.0},{"d":"2023-07-05","v":5.5},{"d":"2023-07-05","v":3.2},{"d":"2023-07-05","v":3.0},{"d":"2023-07-05","v":0.2},{"d":"2023-07-06","v":0.3},{"d":"2023-07-06","v":-2.1},{"d":"2023-07-12","v":-0.4},{"d":"2023-07-12","v":-2.6},{"d":"2023-07-13","v":-0.4},{"d":"2023-07-13","v":-2.7},{"d":"2023-07-14","v":-0.6},{"d":"2023-07-14","v":-3.0},{"d":"2023-07-15","v":0.8},{"d":"2023-07-15","v":-1.5},{"d":"2023-07-16","v":0.2},{"d":"2023-07-16","v":-2.1},{"d":"2023-07-17","v":0.6},{"d":"2023-07-17","v":-1.6},{"d":"2023-07-18","v":0.0},{"d":"2023-07-18","v":-2.3},{"d":"2023-07-19","v":5.0},{"d":"2023-07-19","v":3.2},{"d":"2023-07-19","v":0.5},{"d":"2023-07-19","v":-1.7},{"d":"2023-07-20","v":0.8},{"d":"2023-07-20","v":-1.6},{"d":"2023-07-21","v":0.4},{"d":"2023-07-21","v":-2.0},{"d":"2023-07-22","v":0.2},{"d":"2023-07-22","v":-2.1},{"d":"2023-07-23","v":0.6},{"d":"2023-07-23","v":-1.8},{"d":"2023-07-24","v":0.4},{"d":"2023-07-24","v":-1.9},{"d":"2023-07-27","v":-0.8},{"d":"2023-07-27","v":-2.9},{"d":"2023-07-28","v":0.2},{"d":"2023-07-28","v":-2.1},{"d":"2023-07-29","v":0.5},{"d":"2023-07-29","v":-1.8},{"d":"2023-07-30","v":0.9},{"d":"2023-07-30","v":-1.3},{"d":"2023-07-31","v":0.6},{"d":"2023-07-31","v":-1.6},{"d":"2023-08-01","v":1.7},{"d":"2023-08-01","v":-0.4},{"d":"2023-08-02","v":1.9},{"d":"2023-08-02","v":-0.1},{"d":"2023-08-03","v":1.3},{"d":"2023-08-03","v":-0.8},{"d":"2023-08-04","v":0.5},{"d":"2023-08-04","v":-1.7},{"d":"2023-08-05","v":0.4},{"d":"2023-08-05","v":-1.8},{"d":"2023-08-06","v":0.5},{"d":"2023-08-06","v":-1.7},{"d":"2023-08-07","v":0.6},{"d":"2023-08-07","v":-1.6},{"d":"2023-08-08","v":0.7},{"d":"2023-08-08","v":-1.4},{"d":"2023-08-09","v":0.9},{"d":"2023-08-09","v":-1.2},{"d":"2023-08-10","v":1.2},{"d":"2023-08-10","v":-1.0},{"d":"2023-08-11","v":1.6},{"d":"2023-08-11","v":-0.6},{"d":"2023-08-12","v":-2.3},{"d":"2023-08-13","v":4.7},{"d":"2023-08-13","v":2.5},{"d":"2023-08-13","v":0.5},{"d":"2023-08-17","v":0.5},{"d":"2023-08-17","v":-1.6},{"d":"2023-08-18","v":1.1},{"d":"2023-08-18","v":-1.0},{"d":"2023-08-19","v":2.0},{"d":"2023-08-19","v":0.0},{"d":"2023-08-20","v":3.4},{"d":"2023-08-20","v":1.9},{"d":"2023-08-20","v":-0.2},{"d":"2023-08-21","v":1.8},{"d":"2023-08-21","v":-0.3},{"d":"2023-08-22","v":1.9},{"d":"2023-08-22","v":-0.2},{"d":"2023-08-23","v":11.3},{"d":"2023-08-23","v":7.8},{"d":"2023-08-23","v":7.5},{"d":"2023-08-23","v":7.2},{"d":"2023-08-23","v":5.5},{"d":"2023-08-23","v":5.0},{"d":"2023-08-23","v":4.5},{"d":"2023-08-23","v":4.0},{"d":"2023-08-24","v":3.5},{"d":"2023-08-24","v":1.4},{"d":"2023-08-25","v":3.8},{"d":"2023-08-25","v":1.5},{"d":"2023-08-26","v":3.3},{"d":"2023-08-26","v":1.3},{"d":"2023-08-27","v":3.0},{"d":"2023-08-27","v":0.9},{"d":"2023-08-28","v":2.6},{"d":"2023-08-28","v":0.5},{"d":"2023-08-29","v":2.3},{"d":"2023-08-29","v":0.2},{"d":"2023-08-30","v":2.8},{"d":"2023-08-30","v":0.8},{"d":"2023-08-31","v":0.7},{"d":"2023-08-31","v":-2.2},{"d":"2023-09-01","v":1.8},{"d":"2023-09-01","v":-0.2},{"d":"2023-09-02","v":3.1},{"d":"2023-09-02","v":1.5},{"d":"2023-09-03","v":2.1},{"d":"2023-09-03","v":0.0},{"d":"2023-09-08","v":2.8},{"d":"2023-09-08","v":0.8},{"d":"2023-09-09","v":1.6},{"d":"2023-09-09","v":-0.4},{"d":"2023-09-10","v":0.6},{"d":"2023-09-10","v":-1.4},{"d":"2023-09-11","v":0.0},{"d":"2023-09-11","v":-3.0},{"d":"2023-09-13","v":0.0},{"d":"2023-09-13","v":-2.0},{"d":"2023-09-14","v":1.1},{"d":"2023-09-14","v":-0.9},{"d":"2023-09-15","v":2.1},{"d":"2023-09-15","v":0.1},{"d":"2023-09-17","v":4.9},{"d":"2023-09-17","v":3.0},{"d":"2023-09-17","v":1.0},{"d":"2023-09-18","v":3.8},{"d":"2023-09-18","v":2.4},{"d":"2023-09-18","v":0.4},{"d":"2023-09-19","v":2.0},{"d":"2023-09-19","v":0.0},{"d":"2023-09-21","v":2.8},{"d":"2023-09-21","v":0.8},{"d":"2023-09-23","v":0.8},{"d":"2023-09-23","v":-1.2},{"d":"2023-09-24","v":2.2},{"d":"2023-09-24","v":0.3},{"d":"2023-09-26","v":1.6},{"d":"2023-09-26","v":-0.4},{"d":"2023-09-27","v":1.8},{"d":"2023-09-27","v":-0.2},{"d":"2023-09-29","v":2.7},{"d":"2023-09-29","v":0.7},{"d":"2023-09-30","v":2.1},{"d":"2023-09-30","v":0.1},{"d":"2023-10-01","v":0.5},{"d":"2023-10-01","v":-1.4},{"d":"2023-10-02","v":1.1},{"d":"2023-10-02","v":-0.9},{"d":"2023-10-03","v":0.5},{"d":"2023-10-03","v":-3.8},{"d":"2023-10-04","v":0.9},{"d":"2023-10-04","v":-1.1},{"d":"2023-10-05","v":2.3},{"d":"2023-10-05","v":0.3},{"d":"2023-10-06","v":2.2},{"d":"2023-10-06","v":0.3},{"d":"2023-10-07","v":1.4},{"d":"2023-10-07","v":-0.6},{"d":"2023-10-08","v":0.4},{"d":"2023-10-08","v":-1.6},{"d":"2023-10-10","v":4.7},{"d":"2023-10-10","v":2.3},{"d":"2023-10-10","v":0.3},{"d":"2023-10-12","v":-0.2},{"d":"2023-10-12","v":-2.1},{"d":"2023-10-13","v":1.0},{"d":"2023-10-13","v":-1.0},{"d":"2023-10-15","v":1.8},{"d":"2023-10-15","v":-0.2},{"d":"2023-10-16","v":1.4},{"d":"2023-10-16","v":-0.6},{"d":"2023-10-19","v":3.3},{"d":"2023-10-19","v":2.6},{"d":"2023-10-19","v":0.7},{"d":"2023-10-20","v":-3.5},{"d":"2023-10-21","v":1.8},{"d":"2023-10-21","v":-0.2},{"d":"2023-10-22","v":2.3},{"d":"2023-10-22","v":0.3},{"d":"2023-10-23","v":2.0},{"d":"2023-10-23","v":0.0},{"d":"2023-10-25","v":2.3},{"d":"2023-10-25","v":0.3},{"d":"2023-10-26","v":2.4},{"d":"2023-10-26","v":0.5},{"d":"2023-10-28","v":1.8},{"d":"2023-10-28","v":-0.2},{"d":"2023-10-29","v":-0.3},{"d":"2023-10-29","v":-2.2},{"d":"2023-10-30","v":-1.0},{"d":"2023-10-30","v":-3.0},{"d":"2023-10-31","v":-0.6},{"d":"2023-10-31","v":-2.6},{"d":"2023-11-01","v":-0.1},{"d":"2023-11-01","v":-2.1},{"d":"2023-11-02","v":2.0},{"d":"2023-11-02","v":0.0},{"d":"2023-11-04","v":1.8},{"d":"2023-11-04","v":-0.1},{"d":"2023-11-05","v":6.5},{"d":"2023-11-05","v":2.2},{"d":"2023-11-05","v":0.3},{"d":"2023-11-06","v":0.4},{"d":"2023-11-06","v":-1.5},{"d":"2023-11-07","v":0.1},{"d":"2023-11-07","v":-1.9},{"d":"2023-11-09","v":-1.0},{"d":"2023-11-09","v":-4.0},{"d":"2023-11-13","v":-0.1},{"d":"2023-11-13","v":-2.1},{"d":"2023-11-14","v":2.2},{"d":"2023-11-14","v":1.6},{"d":"2023-11-14","v":-0.3},{"d":"2023-11-15","v":0.9},{"d":"2023-11-15","v":-1.1},{"d":"2023-11-16","v":-0.9},{"d":"2023-11-16","v":-2.8},{"d":"2023-11-17","v":1.0},{"d":"2023-11-17","v":-1.0},{"d":"2023-11-18","v":-0.7},{"d":"2023-11-18","v":-2.7},{"d":"2023-11-19","v":3.2},{"d":"2023-11-19","v":-1.0},{"d":"2023-11-19","v":-5.3},{"d":"2023-11-20","v":0.4},{"d":"2023-11-20","v":-1.5},{"d":"2023-11-21","v":1.8},{"d":"2023-11-21","v":-0.1},{"d":"2023-11-24","v":0.9},{"d":"2023-11-24","v":-1.1},{"d":"2023-11-26","v":-0.9},{"d":"2023-11-26","v":-2.8},{"d":"2023-11-27","v":-0.9},{"d":"2023-11-27","v":-4.0},{"d":"2023-11-29","v":-0.6},{"d":"2023-11-29","v":-2.6},{"d":"2023-11-30","v":0.7},{"d":"2023-11-30","v":-1.3},{"d":"2023-12-01","v":2.3},{"d":"2023-12-01","v":0.3},{"d":"2023-12-07","v":0.4},{"d":"2023-12-07","v":-1.6},{"d":"2023-12-09","v":0.0},{"d":"2023-12-09","v":-2.0},{"d":"2023-12-11","v":-0.5},{"d":"2023-12-11","v":-2.5},{"d":"2023-12-12","v":0.0},{"d":"2023-12-12","v":-2.0},{"d":"2023-12-14","v":1.4},{"d":"2023-12-14","v":-0.6},{"d":"2023-12-17","v":-1.5},{"d":"2023-12-17","v":-3.3},{"d":"2023-12-18","v":-1.0},{"d":"2023-12-18","v":-3.0},{"d":"2023-12-19","v":-1.6},{"d":"2023-12-19","v":-3.4},{"d":"2023-12-20","v":-0.3},{"d":"2023-12-20","v":-2.2},{"d":"2023-12-21","v":-0.4},{"d":"2023-12-21","v":-2.4},{"d":"2023-12-22","v":0.6},{"d":"2023-12-22","v":-1.3},{"d":"2023-12-24","v":1.3},{"d":"2023-12-24","v":-0.6},{"d":"2023-12-25","v":0.5},{"d":"2023-12-25","v":-1.4},{"d":"2023-12-26","v":1.9},{"d":"2023-12-26","v":0.0},{"d":"2023-12-27","v":1.0},{"d":"2023-12-27","v":-1.0},{"d":"2023-12-28","v":1.0},{"d":"2023-12-28","v":-0.9},{"d":"2023-12-29","v":0.4},{"d":"2023-12-29","v":-1.6},{"d":"2023-12-30","v":0.0},{"d":"2023-12-30","v":-2.0},{"d":"2023-12-31","v":0.8},{"d":"2023-12-31","v":-1.2},{"d":"2024-01-02","v":-0.4},{"d":"2024-01-02","v":-2.4},{"d":"2024-01-04","v":-0.4},{"d":"2024-01-04","v":-2.4},{"d":"2024-01-05","v":-1.3},{"d":"2024-01-05","v":-3.2},{"d":"2024-01-08","v":-0.3},{"d":"2024-01-08","v":-2.2},{"d":"2024-01-10","v":-1.1},{"d":"2024-01-10","v":-3.1},{"d":"2024-01-11","v":-1.6},{"d":"2024-01-11","v":-3.5},{"d":"2024-01-12","v":-1.5},{"d":"2024-01-12","v":-3.4},{"d":"2024-01-13","v":-0.9},{"d":"2024-01-13","v":-2.8},{"d":"2024-01-16","v":0.0},{"d":"2024-01-16","v":-2.0},{"d":"2024-01-18","v":1.6},{"d":"2024-01-18","v":-0.3},{"d":"2024-01-19","v":1.0},{"d":"2024-01-19","v":-1.0},{"d":"2024-01-20","v":0.4},{"d":"2024-01-20","v":-1.6},{"d":"2024-01-22","v":-1.0},{"d":"2024-01-22","v":-2.9},{"d":"2024-01-23","v":-0.8},{"d":"2024-01-23","v":-2.8},{"d":"2024-01-25","v":-0.9},{"d":"2024-01-25","v":-2.9},{"d":"2024-01-27","v":-0.6},{"d":"2024-01-27","v":-2.6},{"d":"2024-01-29","v":-1.0},{"d":"2024-01-29","v":-3.0},{"d":"2024-01-30","v":-1.2},{"d":"2024-01-30","v":-3.2},{"d":"2024-02-01","v":-2.2},{"d":"2024-02-01","v":-4.1},{"d":"2024-02-02","v":-0.8},{"d":"2024-02-02","v":-2.8},{"d":"2024-02-03","v":-0.2},{"d":"2024-02-03","v":-2.2},{"d":"2024-02-05","v":-1.1},{"d":"2024-02-05","v":-3.0},{"d":"2024-02-07","v":-1.5},{"d":"2024-02-07","v":-3.4},{"d":"2024-02-08","v":-0.3},{"d":"2024-02-08","v":-2.3},{"d":"2024-02-10","v":0.3},{"d":"2024-02-10","v":-1.7},{"d":"2024-02-12","v":0.1},{"d":"2024-02-12","v":-1.8},{"d":"2024-02-13","v":0.5},{"d":"2024-02-13","v":-1.5},{"d":"2024-02-15","v":-0.5},{"d":"2024-02-15","v":-2.5},{"d":"2024-02-17","v":-0.1},{"d":"2024-02-17","v":-3.7},{"d":"2024-02-19","v":2.0},{"d":"2024-02-19","v":0.0},{"d":"2024-02-20","v":3.9},{"d":"2024-02-20","v":1.8},{"d":"2024-02-20","v":-0.2},{"d":"2024-02-22","v":-0.4},{"d":"2024-02-22","v":-2.4},{"d":"2024-02-24","v":2.6},{"d":"2024-02-24","v":2.1},{"d":"2024-02-24","v":0.2},{"d":"2024-02-26","v":0.6},{"d":"2024-02-26","v":-1.4},{"d":"2024-03-01","v":0.8},{"d":"2024-03-01","v":-1.2},{"d":"2024-03-04","v":-1.1},{"d":"2024-03-04","v":-8.8},{"d":"2024-03-04","v":-3.0},{"d":"2024-03-06","v":-0.2},{"d":"2024-03-06","v":-2.2},{"d":"2024-03-08","v":0.0},{"d":"2024-03-08","v":-2.0},{"d":"2024-03-10","v":0.4},{"d":"2024-03-10","v":-1.6},{"d":"2024-03-12","v":0.7},{"d":"2024-03-12","v":-1.3},{"d":"2024-03-14","v":3.3},{"d":"2024-03-14","v":-0.9},{"d":"2024-03-14","v":-2.8},{"d":"2024-03-15","v":-0.6},{"d":"2024-03-15","v":-2.6},{"d":"2024-03-17","v":2.1},{"d":"2024-03-17","v":0.2},{"d":"2024-03-19","v":0.0},{"d":"2024-03-19","v":-2.0},{"d":"2024-03-21","v":0.5},{"d":"2024-03-21","v":-1.5},{"d":"2024-03-22","v":-0.3},{"d":"2024-03-22","v":-2.3},{"d":"2024-03-24","v":-0.1},{"d":"2024-03-24","v":-2.1},{"d":"2024-03-25","v":-0.1},{"d":"2024-03-25","v":-2.0},{"d":"2024-03-27","v":0.4},{"d":"2024-03-27","v":-1.6},{"d":"2024-03-29","v":0.8},{"d":"2024-03-29","v":-1.2},{"d":"2024-04-01","v":0.1},{"d":"2024-04-01","v":-1.9},{"d":"2024-04-03","v":-0.9},{"d":"2024-04-03","v":-3.4},{"d":"2024-04-05","v":-0.2},{"d":"2024-04-05","v":-2.2},{"d":"2024-04-15","v":2.6},{"d":"2024-04-15","v":0.6},{"d":"2024-04-16","v":5.3},{"d":"2024-04-16","v":4.8},{"d":"2024-04-16","v":4.2},{"d":"2024-04-17","v":3.3},{"d":"2024-04-17","v":1.3},{"d":"2024-04-19","v":-0.3},{"d":"2024-04-19","v":-2.2},{"d":"2024-04-21","v":1.3},{"d":"2024-04-21","v":-0.7},{"d":"2024-04-24","v":1.2},{"d":"2024-04-24","v":-0.8},{"d":"2024-04-26","v":0.6},{"d":"2024-04-26","v":-1.4},{"d":"2024-04-28","v":0.8},{"d":"2024-04-28","v":-1.2},{"d":"2024-04-30","v":1.5},{"d":"2024-04-30","v":-0.5},{"d":"2024-05-13","v":2.3},{"d":"2024-05-13","v":0.3},{"d":"2024-05-14","v":3.1},{"d":"2024-05-14","v":0.9}],
"bUd":[{"d":"2024-01-21","v":0.2},{"d":"2024-01-23","v":0.35},{"d":"2024-01-25","v":-0.2},{"d":"2024-01-26","v":-0.4},{"d":"2024-01-28","v":-0.65},{"d":"2024-01-29","v":-0.85},{"d":"2024-01-31","v":-1.1},{"d":"2024-02-01","v":-1.1},{"d":"2024-02-03","v":-0.6},{"d":"2024-02-05","v":-0.25},{"d":"2024-02-07","v":-0.1},{"d":"2024-02-09","v":0.0},{"d":"2024-02-10","v":0.3},{"d":"2024-02-12","v":0.5},{"d":"2024-02-14","v":0.2},{"d":"2024-02-16","v":-0.45},{"d":"2024-02-17","v":-0.6},{"d":"2024-02-18","v":-0.45},{"d":"2024-02-19","v":-0.2},{"d":"2024-02-21","v":-0.3},{"d":"2024-02-22","v":0.05},{"d":"2024-02-23","v":0.5},{"d":"2024-02-24","v":0.85},{"d":"2024-02-26","v":0.2},{"d":"2024-02-27","v":-0.45},{"d":"2024-03-01","v":0.4},{"d":"2024-03-02","v":-0.1},{"d":"2024-03-03","v":0.1},{"d":"2024-03-04","v":0.0},{"d":"2024-03-05","v":2.25},{"d":"2024-03-06","v":-0.3},{"d":"2024-03-07","v":0.3},{"d":"2024-03-08","v":-0.1},{"d":"2024-03-09","v":0.4},{"d":"2024-03-10","v":0.65},{"d":"2024-03-11","v":0.9},{"d":"2024-03-12","v":1.45},{"d":"2024-03-13","v":0.05},{"d":"2024-03-14","v":-0.5},{"d":"2024-03-15","v":-1.1},{"d":"2024-03-16","v":-0.3},{"d":"2024-03-17","v":0.2},{"d":"2024-03-18","v":0.5},{"d":"2024-03-19","v":0.8},{"d":"2024-03-20","v":0.3},{"d":"2024-03-21","v":0.5},{"d":"2024-03-22","v":0.5},{"d":"2024-03-23","v":0.7},{"d":"2024-03-24","v":0.8},{"d":"2024-03-25","v":1.0},{"d":"2024-03-26","v":0.6},{"d":"2024-03-27","v":0.4},{"d":"2024-03-28","v":0.2},{"d":"2024-03-29","v":-0.1},{"d":"2024-03-30","v":-0.2},{"d":"2024-03-31","v":-0.3},{"d":"2024-04-01","v":-0.6},{"d":"2024-04-02","v":-0.5},{"d":"2024-04-03","v":-0.75},{"d":"2024-04-04","v":-0.9},{"d":"2024-04-05","v":-1.1},{"d":"2024-04-06","v":-1.1},{"d":"2024-04-15","v":-0.75},{"d":"2024-04-16","v":-0.3},{"d":"2024-04-17","v":0.6},{"d":"2024-04-18","v":0.5},{"d":"2024-04-19","v":0.4},{"d":"2024-04-20","v":0.2},{"d":"2024-04-21","v":0.5},{"d":"2024-04-22","v":-0.2},{"d":"2024-04-23","v":-0.5},{"d":"2024-04-24","v":-0.6},{"d":"2024-04-25","v":-0.3},{"d":"2024-04-26","v":-0.75},{"d":"2024-04-27","v":-0.45},{"d":"2024-04-28","v":-0.75},{"d":"2024-04-29","v":-0.6},{"d":"2024-05-14","v":0.35}],
"bUa":[{"d":"2024-01-21","v":1.5},{"d":"2024-01-21","v":-1.0},{"d":"2024-01-23","v":2.0},{"d":"2024-01-23","v":-0.6},{"d":"2024-01-25","v":1.2},{"d":"2024-01-25","v":-1.3},{"d":"2024-01-26","v":2.6},{"d":"2024-01-26","v":-1.5},{"d":"2024-01-28","v":1.0},{"d":"2024-01-28","v":-1.8},{"d":"2024-01-29","v":2.3},{"d":"2024-01-29","v":-2.0},{"d":"2024-01-31","v":0.5},{"d":"2024-01-31","v":-2.1},{"d":"2024-02-01","v":1.3},{"d":"2024-02-01","v":-2.3},{"d":"2024-02-03","v":1.8},{"d":"2024-02-03","v":-1.6},{"d":"2024-02-05","v":2.5},{"d":"2024-02-05","v":-1.2},{"d":"2024-02-07","v":3.0},{"d":"2024-02-07","v":-1.0},{"d":"2024-02-09","v":2.2},{"d":"2024-02-09","v":-1.0},{"d":"2024-02-12","v":1.8},{"d":"2024-02-12","v":-0.8},{"d":"2024-02-14","v":2.1},{"d":"2024-02-14","v":-0.9},{"d":"2024-02-16","v":0.8},{"d":"2024-02-16","v":-1.5},{"d":"2024-02-17","v":0.6},{"d":"2024-02-17","v":-1.7},{"d":"2024-02-18","v":1.5},{"d":"2024-02-18","v":-1.4},{"d":"2024-02-21","v":0.9},{"d":"2024-02-21","v":-1.3},{"d":"2024-02-22","v":1.6},{"d":"2024-02-22","v":-1.0},{"d":"2024-02-23","v":1.9},{"d":"2024-02-23","v":-0.7},{"d":"2024-02-24","v":2.4},{"d":"2024-02-24","v":-0.4},{"d":"2024-02-27","v":0.8},{"d":"2024-02-27","v":-1.6},{"d":"2024-03-02","v":1.2},{"d":"2024-03-02","v":-1.3},{"d":"2024-03-04","v":1.6},{"d":"2024-03-04","v":-1.1},{"d":"2024-03-05","v":3.0},{"d":"2024-03-05","v":1.0},{"d":"2024-03-06","v":1.0},{"d":"2024-03-06","v":-1.5},{"d":"2024-03-08","v":1.5},{"d":"2024-03-08","v":-1.2},{"d":"2024-03-10","v":2.0},{"d":"2024-03-10","v":-0.7},{"d":"2024-03-12","v":2.8},{"d":"2024-03-12","v":0.3},{"d":"2024-03-13","v":1.6},{"d":"2024-03-13","v":-1.1},{"d":"2024-03-15","v":0.3},{"d":"2024-03-15","v":-2.3},{"d":"2024-03-16","v":1.0},{"d":"2024-03-16","v":-1.5},{"d":"2024-03-18","v":2.0},{"d":"2024-03-18","v":-0.8},{"d":"2024-03-19","v":2.5},{"d":"2024-03-19","v":-0.6},{"d":"2024-03-21","v":1.9},{"d":"2024-03-21","v":-0.8},{"d":"2024-03-22","v":2.2},{"d":"2024-03-22","v":-0.9},{"d":"2024-03-24","v":2.7},{"d":"2024-03-24","v":-0.5},{"d":"2024-03-25","v":2.3},{"d":"2024-03-25","v":-0.4},{"d":"2024-03-28","v":1.5},{"d":"2024-03-28","v":-1.2},{"d":"2024-03-29","v":1.3},{"d":"2024-03-29","v":-1.4},{"d":"2024-03-31","v":0.9},{"d":"2024-03-31","v":-1.5},{"d":"2024-04-01","v":0.7},{"d":"2024-04-01","v":-1.8},{"d":"2024-04-03","v":0.6},{"d":"2024-04-03","v":-2.0},{"d":"2024-04-05","v":0.2},{"d":"2024-04-05","v":-2.3},{"d":"2024-04-06","v":0.3},{"d":"2024-04-06","v":-2.2},{"d":"2024-04-15","v":0.6},{"d":"2024-04-15","v":-1.9},{"d":"2024-04-17","v":1.9},{"d":"2024-04-17","v":-0.6},{"d":"2024-04-18","v":1.7},{"d":"2024-04-18","v":-0.8},{"d":"2024-04-21","v":1.8},{"d":"2024-04-21","v":-0.7},{"d":"2024-04-24","v":0.6},{"d":"2024-04-24","v":-1.8},{"d":"2024-04-26","v":0.4},{"d":"2024-04-26","v":-1.9},{"d":"2024-04-27","v":0.8},{"d":"2024-04-27","v":-1.7},{"d":"2024-04-28","v":0.5},{"d":"2024-04-28","v":-1.8},{"d":"2024-04-29","v":0.7},{"d":"2024-04-29","v":-1.6},{"d":"2024-05-14","v":1.1},{"d":"2024-05-14","v":-0.6}]
},
"vconcat":[
{"width":938,"height":253,
"layer":[
{"data":{"values":[{}]},"mark":{"type":"rect","fill":"#808080","fillOpacity":0.3,"stroke":"#a0a0a0","strokeWidth":1.5},
"encoding":{"x":{"datum":{"year":2023,"month":6,"date":1,"utc":true},"type":"temporal","scale":{"type":"utc","domain":[{"year":2023,"month":6,"date":1,"utc":true},{"year":2024,"month":6,"date":1,"utc":true}]},"axis":{"values":[{"year":2023,"month":6,"date":1,"utc":true},{"year":2023,"month":7,"date":1,"utc":true},{"year":2023,"month":8,"date":1,"utc":true},{"year":2023,"month":9,"date":1,"utc":true},{"year":2023,"month":10,"date":1,"utc":true},{"year":2023,"month":11,"date":1,"utc":true},{"year":2023,"month":12,"date":1,"utc":true},{"year":2024,"month":1,"date":1,"utc":true},{"year":2024,"month":2,"date":1,"utc":true},{"year":2024,"month":3,"date":1,"utc":true},{"year":2024,"month":4,"date":1,"utc":true},{"year":2024,"month":5,"date":1,"utc":true},{"year":2024,"month":6,"date":1,"utc":true}],"labels":false,"title":null,"grid":true}},
"x2":{"datum":{"year":2024,"month":6,"date":1,"utc":true}},
"y":{"datum":-3,"type":"quantitative","scale":{"domain":[-12,12],"nice":false,"zero":false},"axis":{"values":[-12,-9,-6,-3,0,3,6,9,12],"labelExpr":"'' + datum.value","labelOverlap":false,"title":["TOC difference (%)","Delta – Brewer"],"titleLineHeight":21,"titlePadding":6,"labelPadding":6,"grid":true}},
"y2":{"datum":3}}},
{"data":{"name":"aVa"},"mark":{"type":"circle","size":24,"opacity":1},"encoding":{"x":{"field":"d","type":"temporal"},"y":{"field":"v","type":"quantitative"},"color":{"datum":"Delta (VIS) all","scale":{"domain":["Delta (VIS) all","Delta (VIS) daily","Delta (UV) all","Delta (UV) daily"],"range":["#72b2df","#2277b4","#d38c9a","#a2142f"]},"legend":null}}},
{"data":{"name":"aUa"},"mark":{"type":"circle","size":24,"opacity":1},"encoding":{"x":{"field":"d","type":"temporal"},"y":{"field":"v","type":"quantitative"},"color":{"datum":"Delta (UV) all","legend":null}}},
{"data":{"values":[{}]},"mark":{"type":"rule","color":"#dc3232","strokeWidth":3,"strokeDash":[12,12.5]},"encoding":{"y":{"datum":0,"type":"quantitative"}}},
{"data":{"name":"aVd"},"mark":{"type":"circle","size":85,"opacity":0.92,"stroke":"#1a1a1a","strokeWidth":1},"encoding":{"x":{"field":"d","type":"temporal"},"y":{"field":"v","type":"quantitative"},"color":{"datum":"Delta (VIS) daily","legend":null}}},
{"data":{"name":"aUd"},"mark":{"type":"circle","size":85,"opacity":0.92,"stroke":"#1a1a1a","strokeWidth":1},"encoding":{"x":{"field":"d","type":"temporal"},"y":{"field":"v","type":"quantitative"},"color":{"datum":"Delta (UV) daily","legend":null}}},
{"data":{"values":[{}]},"mark":{"type":"text","text":"a)","font":"DejaVu Sans","fontSize":29,"align":"left","baseline":"alphabetic","color":"#111111"},"encoding":{"x":{"datum":{"year":2023,"month":6,"date":9,"utc":true},"type":"temporal"},"y":{"datum":9.3,"type":"quantitative"}}}
]},
{"width":938,"height":253,
"layer":[
{"data":{"values":[{}]},"mark":{"type":"rect","fill":"#808080","fillOpacity":0.3,"stroke":"#a0a0a0","strokeWidth":1.5},
"encoding":{"x":{"datum":{"year":2023,"month":6,"date":1,"utc":true},"type":"temporal","scale":{"type":"utc","domain":[{"year":2023,"month":6,"date":1,"utc":true},{"year":2024,"month":6,"date":1,"utc":true}]},"axis":{"values":[{"year":2023,"month":6,"date":1,"utc":true},{"year":2023,"month":7,"date":1,"utc":true},{"year":2023,"month":8,"date":1,"utc":true},{"year":2023,"month":9,"date":1,"utc":true},{"year":2023,"month":10,"date":1,"utc":true},{"year":2023,"month":11,"date":1,"utc":true},{"year":2023,"month":12,"date":1,"utc":true},{"year":2024,"month":1,"date":1,"utc":true},{"year":2024,"month":2,"date":1,"utc":true},{"year":2024,"month":3,"date":1,"utc":true},{"year":2024,"month":4,"date":1,"utc":true},{"year":2024,"month":5,"date":1,"utc":true},{"year":2024,"month":6,"date":1,"utc":true}],"format":"%m/%Y","labelFlush":false,"labelOverlap":false,"labelPadding":4,"title":null,"grid":true}},
"x2":{"datum":{"year":2024,"month":6,"date":1,"utc":true}},
"y":{"datum":-3,"type":"quantitative","scale":{"domain":[-12,12],"nice":false,"zero":false},"axis":{"values":[-12,-9,-6,-3,0,3,6,9,12],"labelExpr":"'' + datum.value","labelOverlap":false,"title":["TOC difference (%)","Delta – Pandora"],"titleLineHeight":21,"titlePadding":6,"labelPadding":6,"grid":true}},
"y2":{"datum":3}}},
{"data":{"name":"bVa"},"mark":{"type":"circle","size":24,"opacity":1},"encoding":{"x":{"field":"d","type":"temporal"},"y":{"field":"v","type":"quantitative"},
"color":{"datum":"Delta (VIS) all","scale":{"domain":["Delta (VIS) all","Delta (VIS) daily","Delta (UV) all","Delta (UV) daily"],"range":["#72b2df","#2277b4","#d38c9a","#a2142f"]},"legend":{"title":null,"orient":"none","legendX":578,"legendY":12,"columns":2,"fillColor":"white","strokeColor":"#8a8a8a","padding":5,"labelFont":"DejaVu Sans","labelFontSize":13,"labelColor":"#262626","symbolType":"circle","symbolSize":55,"symbolOpacity":1,"symbolStrokeWidth":0,"symbolOffset":18,"labelOffset":21,"columnPadding":12,"rowPadding":2}}}},
{"data":{"name":"bUa"},"mark":{"type":"circle","size":24,"opacity":1},"encoding":{"x":{"field":"d","type":"temporal"},"y":{"field":"v","type":"quantitative"},"color":{"datum":"Delta (UV) all"}}},
{"data":{"values":[{}]},"mark":{"type":"rule","color":"#dc3232","strokeWidth":3,"strokeDash":[12,12.5]},"encoding":{"y":{"datum":0,"type":"quantitative"}}},
{"data":{"name":"bVd"},"mark":{"type":"circle","size":85,"opacity":0.92,"stroke":"#1a1a1a","strokeWidth":1},"encoding":{"x":{"field":"d","type":"temporal"},"y":{"field":"v","type":"quantitative"},"color":{"datum":"Delta (VIS) daily"}}},
{"data":{"name":"bUd"},"mark":{"type":"circle","size":85,"opacity":0.92,"stroke":"#1a1a1a","strokeWidth":1},"encoding":{"x":{"field":"d","type":"temporal"},"y":{"field":"v","type":"quantitative"},"color":{"datum":"Delta (UV) daily"}}},
{"data":{"values":[{}]},"mark":{"type":"text","text":"b)","font":"DejaVu Sans","fontSize":29,"align":"left","baseline":"alphabetic","color":"#111111"},"encoding":{"x":{"datum":{"year":2023,"month":6,"date":9,"utc":true},"type":"temporal"},"y":{"datum":9.3,"type":"quantitative"}}}
]}
]
}
